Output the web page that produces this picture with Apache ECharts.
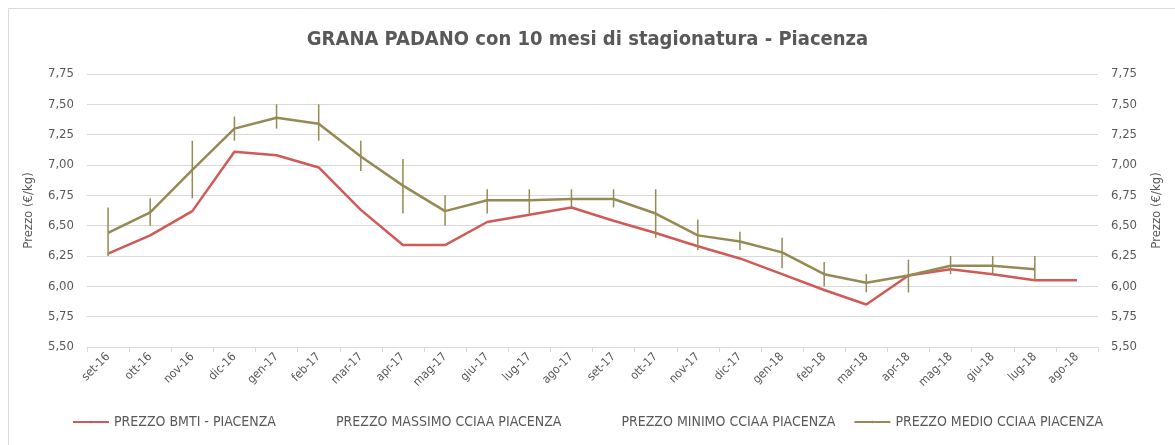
<!DOCTYPE html>
<html>
<head>
<meta charset="utf-8">
<script src="https://cdn.jsdelivr.net/npm/echarts@6/dist/echarts.min.js"></script>
<style>
  html, body { margin: 0; padding: 0; background: #fff; }
  #container { width: 1175px; height: 445px; }
</style>
</head>
<body>
<div id="container"></div>
<script>
// dati
var mesi = ['set-16', 'ott-16', 'nov-16', 'dic-16', 'gen-17', 'feb-17', 'mar-17', 'apr-17', 'mag-17', 'giu-17', 'lug-17', 'ago-17',
    'set-17', 'ott-17', 'nov-17', 'dic-17', 'gen-18', 'feb-18', 'mar-18', 'apr-18', 'mag-18', 'giu-18', 'lug-18', 'ago-18'];
var prezzoBmti = [6.27, 6.42, 6.62, 7.11, 7.08, 6.98, 6.63, 6.34, 6.34, 6.53, 6.59, 6.65,
    6.54, 6.44, 6.33, 6.23, 6.10, 5.97, 5.85, 6.09, 6.14, 6.10, 6.05, 6.05];
var prezzoMassimo = [6.65, 6.725, 7.20, 7.40, 7.50, 7.50, 7.20, 7.05, 6.75, 6.80, 6.80, 6.80,
    6.80, 6.80, 6.55, 6.45, 6.40, 6.20, 6.10, 6.22, 6.25, 6.25, 6.25, null];
var prezzoMinimo = [6.25, 6.50, 6.725, 7.20, 7.30, 7.20, 6.95, 6.60, 6.50, 6.60, 6.60, 6.65,
    6.65, 6.40, 6.30, 6.30, 6.15, 6.00, 5.95, 5.95, 6.10, 6.10, 6.05, null];
var prezzoMedio = [6.44, 6.61, 6.96, 7.30, 7.39, 7.34, 7.07, 6.83, 6.62, 6.71, 6.71, 6.72,
    6.72, 6.60, 6.42, 6.37, 6.28, 6.10, 6.03, 6.09, 6.17, 6.17, 6.14, null];

var FONT = "'Liberation Sans Narrow', 'DejaVu Sans Condensed', sans-serif";
var GRIGIO = '#595959';
var ROSSO = '#d05a57';
var OLIVA = '#948a54';

// linee min-max per ogni mese
var hiLow = [];
for (var i = 0; i < mesi.length; i++) {
    if (prezzoMassimo[i] == null || prezzoMinimo[i] == null) { continue; }
    hiLow.push([i, prezzoMassimo[i], prezzoMinimo[i]]);
}

function fmt(v) { return v.toFixed(2).replace('.', ','); }

var myChart = echarts.init(document.getElementById('container'));
var option = {
    backgroundColor: '#fff',
    animation: false,
    textStyle: { fontFamily: FONT },
    graphic: [{
        type: 'rect',
        shape: { x: 8.5, y: 8.5, width: 1180, height: 450 },
        style: { fill: 'none', stroke: '#d9d9d9', lineWidth: 1 },
        silent: true
    }],
    title: {
        text: 'GRANA PADANO con 10 mesi di stagionatura - Piacenza',
        left: 'center',
        top: 25,
        textStyle: { fontFamily: FONT, fontSize: 20, fontWeight: 'bold', color: GRIGIO }
    },
    legend: {
        bottom: 11,
        left: 'center',
        itemWidth: 36,
        itemHeight: 3,
        itemGap: 18,
        textStyle: { fontFamily: FONT, fontSize: 14, color: GRIGIO },
        data: [
            { name: 'PREZZO BMTI - PIACENZA' },
            { name: 'PREZZO MASSIMO CCIAA PIACENZA', lineStyle: { opacity: 0 }, itemStyle: { opacity: 0 } },
            { name: 'PREZZO MINIMO CCIAA PIACENZA', lineStyle: { opacity: 0 }, itemStyle: { opacity: 0 } },
            { name: 'PREZZO MEDIO CCIAA PIACENZA' }
        ]
    },
    grid: { left: 87, right: 77, top: 74, bottom: 98 },
    xAxis: {
        type: 'category',
        data: mesi,
        boundaryGap: true,
        axisLine: { lineStyle: { color: '#d9d9d9' } },
        axisTick: { show: true, length: 5, lineStyle: { color: '#d9d9d9' } },
        axisLabel: { rotate: 45, color: GRIGIO, fontSize: 12, margin: 8, fontFamily: FONT }
    },
    yAxis: [{
        type: 'value',
        min: 5.5,
        max: 7.75,
        interval: 0.25,
        name: 'Prezzo (€/kg)',
        nameLocation: 'middle',
        nameRotate: 90,
        nameGap: 52,
        nameTextStyle: { color: GRIGIO, fontSize: 13, fontFamily: FONT },
        axisLine: { show: false },
        axisTick: { show: false },
        axisLabel: { color: GRIGIO, fontSize: 13, margin: 13, formatter: fmt, fontFamily: FONT },
        splitLine: { lineStyle: { color: '#d9d9d9' } }
    }, {
        type: 'value',
        position: 'right',
        min: 5.5,
        max: 7.75,
        interval: 0.25,
        name: 'Prezzo (€/kg)',
        nameLocation: 'middle',
        nameRotate: 90,
        nameGap: 52,
        nameTextStyle: { color: GRIGIO, fontSize: 13, fontFamily: FONT },
        axisLine: { show: false },
        axisTick: { show: false },
        axisLabel: { color: GRIGIO, fontSize: 13, margin: 13, formatter: fmt, fontFamily: FONT },
        splitLine: { show: false }
    }],
    series: [
        {
            name: 'PREZZO BMTI - PIACENZA',
            type: 'line',
            data: prezzoBmti,
            symbol: 'none',
            color: ROSSO,
            lineStyle: { width: 2.5, color: ROSSO },
            z: 3
        },
        {
            name: 'PREZZO MASSIMO CCIAA PIACENZA',
            type: 'line',
            data: prezzoMassimo,
            symbol: 'none',
            color: OLIVA,
            lineStyle: { opacity: 0 },
            silent: true
        },
        {
            name: 'PREZZO MINIMO CCIAA PIACENZA',
            type: 'line',
            data: prezzoMinimo,
            symbol: 'none',
            color: OLIVA,
            lineStyle: { opacity: 0 },
            silent: true
        },
        {
            name: 'PREZZO MEDIO CCIAA PIACENZA',
            type: 'line',
            data: prezzoMedio,
            symbol: 'none',
            color: OLIVA,
            lineStyle: { width: 2.5, color: OLIVA },
            z: 4
        },
        {
            name: 'minmax',
            type: 'custom',
            data: hiLow,
            encode: { x: 0, y: [1, 2] },
            renderItem: function (params, api) {
                var top = api.coord([api.value(0), api.value(1)]);
                var bot = api.coord([api.value(0), api.value(2)]);
                return {
                    type: 'line',
                    shape: { x1: top[0], y1: top[1], x2: bot[0], y2: bot[1] },
                    style: { stroke: OLIVA, lineWidth: 1.5 }
                };
            },
            z: 5
        }
    ]
};
myChart.setOption(option);
</script>
</body>
</html>
